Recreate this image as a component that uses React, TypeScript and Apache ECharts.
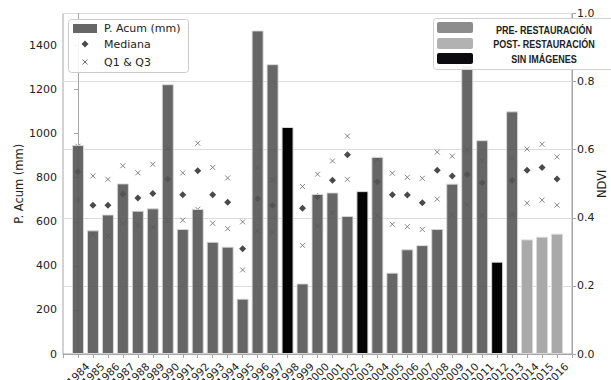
import React, { useEffect, useRef } from "react";
import * as echarts from "echarts";

const years: string[] = [
  "1984", "1985", "1986", "1987", "1988", "1989", "1990", "1991", "1992", "1993", "1994",
  "1995", "1996", "1997", "1998", "1999", "2000", "2001", "2002", "2003", "2004", "2005",
  "2006", "2007", "2008", "2009", "2010", "2011", "2012", "2013", "2014", "2015", "2016",
];
const precip: number[] = [
  948, 561, 633, 774, 650, 661, 1224, 567, 658, 509, 487,
  251, 1468, 1315, 1030, 320, 726, 733, 626, 739, 894, 369,
  475, 494, 567, 773, 1310, 970, 419, 1101, 520, 532, 546,
];
const noImageYears: string[] = ["1998", "2003", "2012"];
const postYears: string[] = ["2014", "2015", "2016"];
const median: (number | null)[] = [
  0.535, 0.437, 0.437, 0.47, 0.458, 0.471, 0.513, 0.468, 0.538, 0.468, 0.446,
  0.309, 0.456, 0.437, null, 0.428, 0.462, 0.51, 0.585, null, 0.506, 0.468,
  0.467, 0.444, 0.54, 0.523, 0.527, 0.503, null, 0.51, 0.54, 0.548, 0.514,
];
const q1: (number | null)[] = [
  0.452, 0.352, 0.347, 0.383, 0.378, 0.372, 0.391, 0.393, 0.425, 0.384, 0.368,
  0.247, 0.362, 0.358, null, 0.319, 0.376, 0.415, 0.513, null, 0.407, 0.381,
  0.374, 0.366, 0.455, 0.408, 0.438, 0.407, null, 0.41, 0.443, 0.452, 0.437,
];
const q3: (number | null)[] = [
  0.61, 0.523, 0.513, 0.553, 0.532, 0.557, 0.604, 0.532, 0.619, 0.548, 0.517,
  0.388, 0.548, 0.511, null, 0.492, 0.528, 0.567, 0.64, null, 0.572, 0.531,
  0.519, 0.516, 0.593, 0.581, 0.599, 0.567, null, 0.575, 0.602, 0.616, 0.579,
];
const leftTicks = { min: 0, max: 1545, interval: 200 };
const rightTicks = { min: 0, max: 1, interval: 0.2 };

const FONT = "DejaVu Sans";
const TXT = "#222222";
const AXIS = "#a6a6a6";

export default function App() {
  const ref = useRef<HTMLDivElement>(null);
  useEffect(() => {
    if (!ref.current) return;
    const chart = echarts.init(ref.current, undefined, { renderer: "svg" });

    const barData = precip.map((v, i) => {
      const y = years[i];
      let itemStyle: any = { color: "#555555", opacity: 0.9 };
      if (noImageYears.includes(y)) itemStyle = { color: "#030303", opacity: 1 };
      else if (postYears.includes(y)) itemStyle = { color: "#a9a9a9", opacity: 1 };
      return { value: [i, v], itemStyle };
    });
    const medData: number[][] = [];
    median.forEach((v, i) => { if (v != null) medData.push([i, v]); });
    const qData: number[][] = [];
    q1.forEach((v, i) => { if (v != null) qData.push([i, v]); });
    q3.forEach((v, i) => { if (v != null) qData.push([i, v]); });

    const txt = (text: string, x: number, y: number, extra: any = {}) => ({
      type: "text",
      x,
      y,
      z: 101,
      style: {
        text,
        fontFamily: FONT,
        fontSize: 11,
        fill: TXT,
        align: "left",
        verticalAlign: "middle",
        textAlign: "left",
        textVerticalAlign: "middle",
        ...extra,
      },
    });
    const legTxt = (text: string, y: number) => ({
      type: "text",
      x: 544,
      y,
      z: 101,
      scaleX: 0.86,
      style: {
        text,
        fontFamily: "Liberation Sans",
        fontWeight: "bold",
        fontSize: 10.5,
        fill: "#222222",
        align: "center",
        verticalAlign: "middle",
        textAlign: "center",
        textVerticalAlign: "middle",
      },
    });

    const option: any = {
      animation: false,
      grid: {
        left: 63,
        right: 39,
        top: 13.5,
        bottom: 26,
        outerBoundsMode: "none",
        containLabel: false,
        show: true,
        borderColor: AXIS,
        borderWidth: 1,
        backgroundColor: "transparent",
      },
      xAxis: {
        type: "value",
        min: -1,
        max: 33,
        interval: 1,
        splitLine: { show: false },
        axisLine: { show: true, lineStyle: { color: AXIS } },
        axisTick: { show: true, length: 4, lineStyle: { color: AXIS } },
        axisLabel: {
          rotate: 45,
          align: "center",
          verticalAlign: "middle",
          margin: 20,
          fontFamily: FONT,
          fontSize: 10.5,
          color: TXT,
          showMinLabel: true,
          showMaxLabel: true,
          formatter: (v: number) => (Number.isInteger(v) && years[v] ? years[v] : ""),
        },
      },
      yAxis: [
        {
          type: "value",
          position: "left",
          min: leftTicks.min,
          max: leftTicks.max,
          interval: leftTicks.interval,
          name: "P. Acum (mm)",
          nameLocation: "middle",
          nameRotate: 90,
          nameGap: 38,
          nameMoveOverlap: false,
          nameTextStyle: { fontFamily: FONT, fontSize: 11.5, color: TXT },
          splitLine: { show: false },
          axisLine: { show: true, lineStyle: { color: AXIS } },
          axisTick: { show: true, length: 4, lineStyle: { color: AXIS } },
          axisLabel: {
            margin: 6,
            fontFamily: FONT,
            fontSize: 11,
            color: TXT,
            showMaxLabel: false,
            formatter: (v: number) => (v % 200 === 0 ? String(v) : ""),
          },
        },
        {
          type: "value",
          position: "right",
          min: rightTicks.min,
          max: rightTicks.max,
          interval: rightTicks.interval,
          name: "NDVI",
          nameLocation: "middle",
          nameRotate: 90,
          nameGap: 24,
          nameMoveOverlap: false,
          nameTextStyle: { fontFamily: FONT, fontSize: 11.5, color: TXT },
          splitLine: { show: true, lineStyle: { color: "#dcdcdc", width: 1 } },
          axisLine: { show: true, lineStyle: { color: AXIS } },
          axisTick: { show: true, length: 4, lineStyle: { color: AXIS } },
          axisLabel: {
            margin: 5,
            fontFamily: FONT,
            fontSize: 11,
            color: TXT,
            formatter: (v: number) => v.toFixed(1),
          },
        },
      ],
      series: [
        {
          name: "Mediana",
          type: "scatter",
          yAxisIndex: 1,
          symbol: "diamond",
          symbolSize: 7,
          itemStyle: { color: "#4a4a4a", opacity: 1 },
          data: medData,
          z: 2,
        },
        {
          name: "Q1 & Q3",
          type: "scatter",
          yAxisIndex: 1,
          symbol: "path://M0,0L10,10M10,0L0,10",
          symbolSize: 5,
          itemStyle: { color: "none", borderColor: "#6a6a6a", borderWidth: 1 },
          data: qData,
          z: 2,
        },
        {
          name: "P. Acum (mm)",
          type: "bar",
          yAxisIndex: 0,
          barWidth: 12,
          itemStyle: { color: "#555555", opacity: 0.9, borderColor: "#d9d9d9", borderWidth: 1 },
          data: barData,
          z: 3,
        },
      ],
      graphic: [
        {
          type: "rect",
          z: 100,
          shape: { x: 68.5, y: 19.5, width: 120, height: 53, r: 3 },
          style: { fill: "rgba(255,255,255,0.9)", stroke: "#cccccc", lineWidth: 1 },
        },
        {
          type: "rect",
          z: 101,
          shape: { x: 73, y: 24, width: 24, height: 9 },
          style: { fill: "#666666" },
        },
        txt("P. Acum (mm)", 104, 28.5),
        {
          type: "polygon",
          z: 101,
          shape: { points: [[85, 40.5], [88.5, 44], [85, 47.5], [81.5, 44]] },
          style: { fill: "#4a4a4a" },
        },
        txt("Mediana", 104, 44.5),
        {
          type: "line",
          z: 101,
          shape: { x1: 82.5, y1: 59.5, x2: 87.5, y2: 64.5 },
          style: { stroke: "#6a6a6a", lineWidth: 1 },
        },
        {
          type: "line",
          z: 101,
          shape: { x1: 87.5, y1: 59.5, x2: 82.5, y2: 64.5 },
          style: { stroke: "#6a6a6a", lineWidth: 1 },
        },
        txt("Q1 & Q3", 104, 62),
        {
          type: "rect",
          z: 100,
          shape: { x: 433.5, y: 18.5, width: 200, height: 51, r: 3 },
          style: { fill: "rgba(255,255,255,0.92)", stroke: "#d0d0d0", lineWidth: 1 },
        },
        {
          type: "rect",
          z: 101,
          shape: { x: 437, y: 22, width: 36, height: 11, r: 2 },
          style: { fill: "#8c8c8c" },
        },
        {
          type: "rect",
          z: 101,
          shape: { x: 437, y: 38, width: 36, height: 11, r: 2 },
          style: { fill: "#b2b2b2" },
        },
        {
          type: "rect",
          z: 101,
          shape: { x: 437, y: 53, width: 36, height: 11, r: 2 },
          style: { fill: "#0c0c10" },
        },
        legTxt("PRE- RESTAURACIÓN", 30.5),
        legTxt("POST- RESTAURACIÓN", 44),
        legTxt("SIN IMÁGENES", 59.5),
      ],
    };
    chart.setOption(option);
    return () => chart.dispose();
  }, []);
  return (
    <div
      ref={ref}
      style={{ position: "fixed", left: 0, top: 0, width: 611, height: 380, background: "#fff" }}
    />
  );
}
